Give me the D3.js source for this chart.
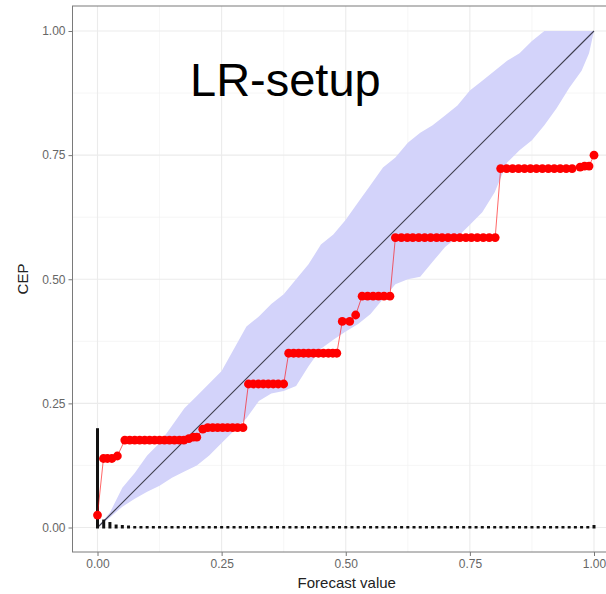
<!DOCTYPE html>
<html>
<head>
<meta charset="utf-8">
<script src="https://cdn.jsdelivr.net/npm/d3@7"></script>
<style>
  body { margin: 0; background: #fff; }
  text { font-family: "Liberation Sans", Arial, sans-serif; }
</style>
</head>
<body>
<div id="chart-area"></div>
<script>
/*
*    CEP reliability diagram
*/
var title = "LR-setup";
var xLabel = "Forecast value";
var yLabel = "CEP";
var ticks = [0, 0.25, 0.5, 0.75, 1];
var tickLabels = ["0.00", "0.25", "0.50", "0.75", "1.00"];
var minorTicks = [0.125, 0.375, 0.625, 0.875];

// consistency band
var bandX  = [0, 0.025, 0.05, 0.075, 0.1, 0.125, 0.15, 0.175, 0.2, 0.225, 0.25, 0.275, 0.3, 0.325, 0.35, 0.375, 0.4, 0.425, 0.45, 0.475, 0.5,
              0.525, 0.55, 0.575, 0.6, 0.625, 0.65, 0.675, 0.7, 0.725, 0.75, 0.775, 0.8, 0.825, 0.85, 0.875, 0.9, 0.925, 0.95, 0.975, 0.99, 1];
var bandLo = [0, 0.02, 0.042, 0.058, 0.072, 0.084, 0.1, 0.113, 0.125, 0.145, 0.17, 0.195, 0.22, 0.255, 0.27, 0.275, 0.285, 0.325, 0.36, 0.378, 0.395,
              0.41, 0.43, 0.46, 0.49, 0.5, 0.505, 0.535, 0.565, 0.585, 0.61, 0.635, 0.675, 0.735, 0.76, 0.78, 0.81, 0.845, 0.885, 0.92, 0.955, 1];
var bandHi = [0, 0.03, 0.08, 0.11, 0.145, 0.17, 0.205, 0.24, 0.265, 0.29, 0.315, 0.36, 0.405, 0.425, 0.45, 0.47, 0.5, 0.53, 0.57, 0.59, 0.62,
              0.655, 0.69, 0.725, 0.745, 0.775, 0.795, 0.81, 0.83, 0.85, 0.88, 0.9, 0.92, 0.94, 0.955, 0.98, 1, 1, 1, 1, 1, 1];

// CEP points
var cepX = [0, 0.012, 0.02, 0.029, 0.04,
            0.055, 0.065, 0.075, 0.085, 0.095, 0.105, 0.115, 0.125, 0.135, 0.145, 0.155, 0.165, 0.174, 0.184, 0.193, 0.2,
            0.212, 0.222, 0.232, 0.242, 0.252, 0.262, 0.272, 0.282, 0.293,
            0.304, 0.314, 0.324, 0.334, 0.344, 0.354, 0.364, 0.375,
            0.385, 0.395, 0.405, 0.415, 0.425, 0.435, 0.445, 0.455, 0.465, 0.474, 0.482,
            0.493, 0.508, 0.52,
            0.533, 0.544, 0.555, 0.566, 0.577, 0.589,
            0.6, 0.612, 0.624, 0.635, 0.647, 0.659, 0.671, 0.683, 0.694, 0.706, 0.718, 0.73, 0.742, 0.753, 0.765, 0.777, 0.789, 0.801,
            0.812, 0.824, 0.836, 0.848, 0.86, 0.872, 0.884, 0.896, 0.908, 0.92, 0.932, 0.944, 0.956, 0.972, 0.981, 0.99, 1];
var cepY = [0.025, 0.139, 0.139, 0.139, 0.144,
            0.176, 0.176, 0.176, 0.176, 0.176, 0.176, 0.176, 0.176, 0.176, 0.176, 0.176, 0.176, 0.176, 0.179, 0.182, 0.182,
            0.198, 0.201, 0.201, 0.201, 0.201, 0.201, 0.201, 0.201, 0.201,
            0.289, 0.289, 0.289, 0.289, 0.289, 0.289, 0.289, 0.289,
            0.351, 0.351, 0.351, 0.351, 0.351, 0.351, 0.351, 0.351, 0.351, 0.351, 0.351,
            0.415, 0.415, 0.428,
            0.466, 0.466, 0.466, 0.466, 0.466, 0.466,
            0.584, 0.584, 0.584, 0.584, 0.584, 0.584, 0.584, 0.584, 0.584, 0.584, 0.584, 0.584, 0.584, 0.584, 0.584, 0.584, 0.584, 0.584,
            0.723, 0.723, 0.723, 0.723, 0.723, 0.723, 0.723, 0.723, 0.723, 0.723, 0.723, 0.723, 0.723, 0.726, 0.728, 0.728, 0.75];

// histogram of forecast values (bin width 0.0125)
var histStep = 0.0125;
var histHeights = [0.2, 0.016, 0.011, 0.006, 0.005, 0.004, 0.003, 0.003, 0.003, 0.003,
                   0.003, 0.003, 0.003, 0.003, 0.003, 0.003, 0.003, 0.003, 0.003, 0.003,
                   0.003, 0.003, 0.003, 0.003, 0.003, 0.003, 0.003, 0.003, 0.003, 0.003,
                   0.003, 0.003, 0.003, 0.003, 0.003, 0.003, 0.003, 0.003, 0.003, 0.003,
                   0.003, 0.003, 0.003, 0.003, 0.003, 0.003, 0.003, 0.003, 0.003, 0.003,
                   0.003, 0.003, 0.003, 0.003, 0.003, 0.003, 0.003, 0.003, 0.003, 0.003,
                   0.003, 0.003, 0.003, 0.003, 0.003, 0.003, 0.003, 0.003, 0.003, 0.003,
                   0.003, 0.003, 0.003, 0.003, 0.003, 0.003, 0.003, 0.003, 0.003, 0.003,
                   0.005];

var width = 606;
var height = 594;
var panel = {left: 72.5, top: 6, right: 619, bottom: 552};

var svg = d3.select("#chart-area")
    .append("svg")
        .attr("width", width)
        .attr("height", height);

var x = d3.scaleLinear()
    .domain([0, 1])
    .range([97.5, 594]);

var y = d3.scaleLinear()
    .domain([0, 1])
    .range([527.5, 31]);

// gridlines
var grid = svg.append("g");
grid.selectAll(".minor-v").data(minorTicks).enter().append("line")
    .attr("x1", (d) => x(d)).attr("x2", (d) => x(d))
    .attr("y1", panel.top).attr("y2", panel.bottom)
    .attr("stroke", "#f2f2f2").attr("stroke-width", 0.7);
grid.selectAll(".minor-h").data(minorTicks).enter().append("line")
    .attr("y1", (d) => y(d)).attr("y2", (d) => y(d))
    .attr("x1", panel.left).attr("x2", panel.right)
    .attr("stroke", "#f2f2f2").attr("stroke-width", 0.7);
grid.selectAll(".major-v").data(ticks).enter().append("line")
    .attr("x1", (d) => x(d)).attr("x2", (d) => x(d))
    .attr("y1", panel.top).attr("y2", panel.bottom)
    .attr("stroke", "#ebebeb").attr("stroke-width", 1.1);
grid.selectAll(".major-h").data(ticks).enter().append("line")
    .attr("y1", (d) => y(d)).attr("y2", (d) => y(d))
    .attr("x1", panel.left).attr("x2", panel.right)
    .attr("stroke", "#ebebeb").attr("stroke-width", 1.1);

// band
var area = d3.area()
    .x((d, i) => x(bandX[i]))
    .y0((d, i) => y(bandLo[i]))
    .y1((d, i) => y(bandHi[i]));

svg.append("path")
    .datum(bandX)
    .attr("d", area)
    .attr("fill", "#d3d3fa")
    .attr("stroke", "none");

// diagonal
svg.append("line")
    .attr("x1", x(0)).attr("y1", y(0))
    .attr("x2", x(1)).attr("y2", y(1))
    .attr("stroke", "#3d3d4d")
    .attr("stroke-width", 1.1);

// histogram
svg.selectAll(".hist")
    .data(histHeights)
    .enter()
    .append("rect")
        .attr("class", "hist")
        .attr("x", (d, i) => x(i * histStep) - 1.5)
        .attr("y", (d) => y(d))
        .attr("width", 3)
        .attr("height", (d) => y(0) - y(d) + 1)
        .attr("fill", "#111");

// CEP line and points
var line = d3.line()
    .x((d, i) => x(cepX[i]))
    .y((d, i) => y(cepY[i]));

svg.append("path")
    .datum(cepX)
    .attr("d", line)
    .attr("fill", "none")
    .attr("stroke", "#ff0000")
    .attr("stroke-width", 0.6);

svg.selectAll(".pt")
    .data(cepX)
    .enter()
    .append("circle")
        .attr("class", "pt")
        .attr("cx", (d) => x(d))
        .attr("cy", (d, i) => y(cepY[i]))
        .attr("r", 4.4)
        .attr("fill", "#ff0000");

// axes
var bottomAxis = d3.axisBottom(x)
    .tickValues(ticks)
    .tickSize(4)
    .tickPadding(3)
    .tickFormat((d, i) => tickLabels[i]);

var xAxisG = svg.append("g")
    .attr("class", "bottom axis")
    .attr("transform", "translate(0, " + panel.bottom + ")")
    .call(bottomAxis);

var leftAxis = d3.axisLeft(y)
    .tickValues(ticks)
    .tickSize(4)
    .tickPadding(3)
    .tickFormat((d, i) => tickLabels[i]);

var yAxisG = svg.append("g")
    .attr("class", "left axis")
    .attr("transform", "translate(" + panel.left + ", 0)")
    .call(leftAxis);

[xAxisG, yAxisG].forEach((g) => {
    g.select(".domain").remove();
    g.selectAll(".tick line").attr("stroke", "#777");
    g.selectAll(".tick text")
        .attr("fill", "#666")
        .attr("font-size", "12px")
        .attr("font-family", "Liberation Sans, Arial, sans-serif");
});

// panel border
svg.append("rect")
    .attr("x", panel.left)
    .attr("y", panel.top)
    .attr("width", panel.right - panel.left)
    .attr("height", panel.bottom - panel.top)
    .attr("fill", "none")
    .attr("stroke", "#7a7a7a")
    .attr("stroke-width", 1);

// labels
svg.append("text")
    .attr("x", 190)
    .attr("y", 96)
    .attr("font-size", "47px")
    .attr("fill", "#000")
    .text(title);

svg.append("text")
    .attr("x", (x(0) + x(1)) / 2 + 1)
    .attr("y", 588)
    .attr("font-size", "15px")
    .attr("text-anchor", "middle")
    .attr("fill", "#222")
    .text(xLabel);

svg.append("text")
    .attr("x", -(panel.top + panel.bottom) / 2)
    .attr("y", 28)
    .attr("font-size", "15px")
    .attr("text-anchor", "middle")
    .attr("transform", "rotate(-90)")
    .attr("fill", "#222")
    .text(yLabel);
</script>
</body>
</html>
